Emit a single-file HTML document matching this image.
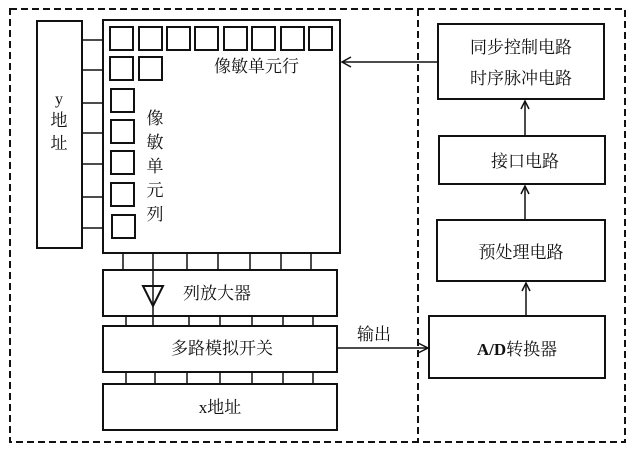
<!DOCTYPE html>
<html><head><meta charset="utf-8"><style>body{margin:0;background:#fff}</style></head><body>
<svg width="640" height="452" viewBox="0 0 640 452" xmlns="http://www.w3.org/2000/svg" font-family="Liberation Serif, Noto Serif CJK SC, serif" fill="none" stroke="#111">
<rect x="10" y="9" width="615" height="433" stroke-width="2" stroke-dasharray="7,4"/>
<line x1="418" y1="9" x2="418" y2="442" stroke-width="2" stroke-dasharray="7,4"/>
<g stroke-width="2">
<rect x="37" y="21" width="45" height="227"/>
<rect x="103" y="20" width="237" height="233"/>
<g stroke-width="1.5">
<line x1="82" y1="40" x2="103" y2="40"/><line x1="82" y1="70" x2="103" y2="70"/><line x1="82" y1="103" x2="103" y2="103"/><line x1="82" y1="133" x2="103" y2="133"/><line x1="82" y1="164" x2="103" y2="164"/><line x1="82" y1="197" x2="103" y2="197"/><line x1="82" y1="228" x2="103" y2="228"/>
</g>
<rect x="110" y="27" width="23" height="23"/><rect x="139" y="27" width="23" height="23"/><rect x="167" y="27" width="23" height="23"/><rect x="195" y="27" width="23" height="23"/><rect x="224" y="27" width="23" height="23"/><rect x="252" y="27" width="23" height="23"/><rect x="281" y="27" width="23" height="23"/><rect x="309" y="27" width="23" height="23"/>
<rect x="110" y="57" width="23" height="23"/><rect x="139" y="57" width="23" height="23"/>
<rect x="111" y="89" width="23" height="23"/><rect x="111" y="120" width="23" height="23"/><rect x="111" y="151" width="23" height="23"/><rect x="111" y="183" width="23" height="23"/><rect x="112" y="215" width="23" height="23"/>
<g stroke-width="1.5">
<line x1="123" y1="253" x2="123" y2="270"/><line x1="153" y1="253" x2="153" y2="270"/><line x1="187" y1="253" x2="187" y2="270"/><line x1="218" y1="253" x2="218" y2="270"/><line x1="250" y1="253" x2="250" y2="270"/><line x1="281" y1="253" x2="281" y2="270"/><line x1="311" y1="253" x2="311" y2="270"/>
</g>
<rect x="103" y="270" width="234" height="46"/>
<line x1="153" y1="270" x2="153" y2="316" stroke-width="1.5"/>
<polygon points="143,286 163,286 153,306"/>
<g stroke-width="1.5">
<line x1="126" y1="316" x2="126" y2="326"/><line x1="153" y1="316" x2="153" y2="326"/><line x1="189" y1="316" x2="189" y2="326"/><line x1="220" y1="316" x2="220" y2="326"/><line x1="252" y1="316" x2="252" y2="326"/><line x1="283" y1="316" x2="283" y2="326"/><line x1="313" y1="316" x2="313" y2="326"/>
</g>
<rect x="103" y="326" width="234" height="46"/>
<g stroke-width="1.5">
<line x1="126" y1="372" x2="126" y2="384"/><line x1="155" y1="372" x2="155" y2="384"/><line x1="187" y1="372" x2="187" y2="384"/><line x1="220" y1="372" x2="220" y2="384"/><line x1="252" y1="372" x2="252" y2="384"/><line x1="283" y1="372" x2="283" y2="384"/><line x1="313" y1="372" x2="313" y2="384"/>
</g>
<rect x="103" y="384" width="234" height="46"/>
<line x1="337" y1="348" x2="428" y2="348" stroke-width="1.5"/>
<polyline points="418,343 428,348 418,353" stroke-width="1.5"/>
<rect x="438" y="24" width="166" height="75"/>
<line x1="342" y1="62" x2="438" y2="62" stroke-width="1.5"/>
<polyline points="351,57 342,62 351,67" stroke-width="1.5"/>
<rect x="439" y="136" width="166" height="48"/>
<rect x="437" y="220" width="168" height="61"/>
<rect x="429" y="316" width="176" height="62"/>
<line x1="525" y1="101" x2="525" y2="136" stroke-width="1.5"/><polyline points="521,109 525,101 529,109" stroke-width="1.5"/>
<line x1="525" y1="186" x2="525" y2="220" stroke-width="1.5"/><polyline points="521,194 525,186 529,194" stroke-width="1.5"/>
<line x1="526" y1="283" x2="526" y2="316" stroke-width="1.5"/><polyline points="522,291 526,283 530,291" stroke-width="1.5"/>
</g>
<g fill="#111" stroke="none" font-size="17">
<text x="59" y="104" text-anchor="middle" font-size="16">y</text>
<text x="59" y="126" text-anchor="middle">地</text>
<text x="59" y="149" text-anchor="middle">址</text>
<text x="214" y="72">像敏单元行</text>
<text x="155" y="124" text-anchor="middle">像</text>
<text x="155" y="148" text-anchor="middle">敏</text>
<text x="155" y="172" text-anchor="middle">单</text>
<text x="155" y="196" text-anchor="middle">元</text>
<text x="155" y="220" text-anchor="middle">列</text>
<text x="183" y="299">列放大器</text>
<text x="222" y="354" text-anchor="middle">多路模拟开关</text>
<text x="220" y="413" text-anchor="middle">x地址</text>
<text x="357" y="340">输出</text>
<text x="521" y="53" text-anchor="middle">同步控制电路</text>
<text x="521" y="84" text-anchor="middle">时序脉冲电路</text>
<text x="525" y="167" text-anchor="middle">接口电路</text>
<text x="521" y="258" text-anchor="middle">预处理电路</text>
<text x="517" y="355" text-anchor="middle"><tspan font-weight="bold">A/D</tspan>转换器</text>
</g>
</svg>
</body></html>
